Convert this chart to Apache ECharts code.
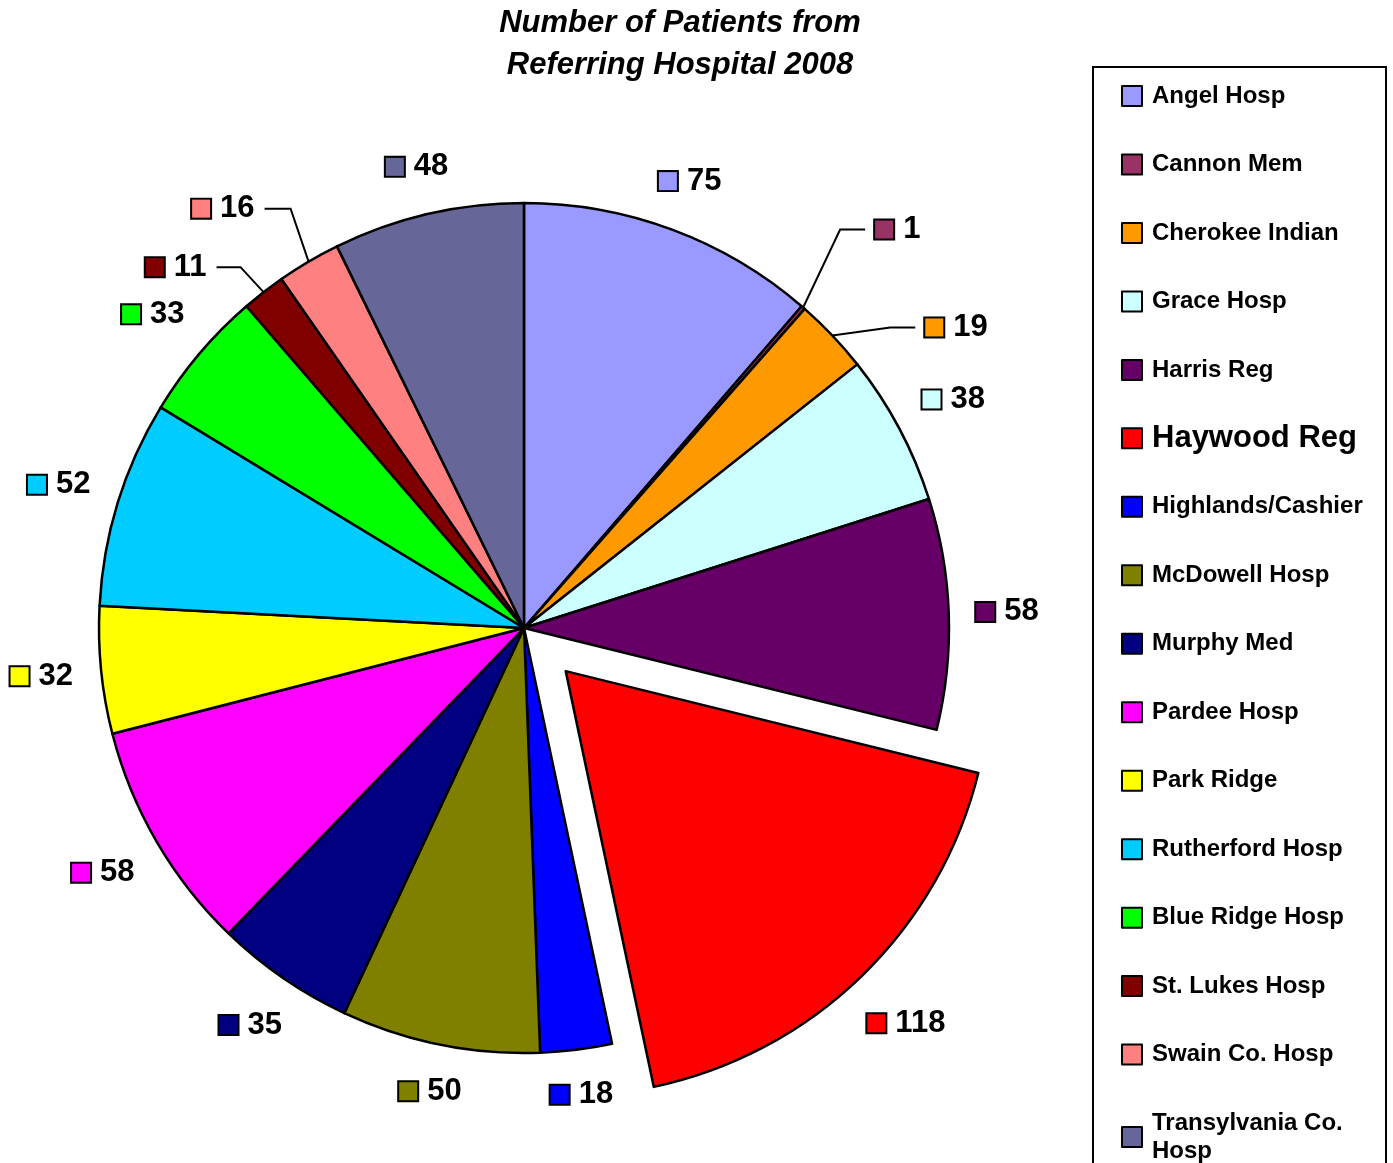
<!DOCTYPE html>
<html>
<head>
<meta charset="utf-8">
<script src="https://cdn.jsdelivr.net/npm/echarts@6/dist/echarts.min.js"></script>
<style>
html,body{margin:0;padding:0;background:#fff;}
#chart{width:1393px;height:1163px;}
</style>
</head>
<body>
<div id="chart"></div>
<script>
// ---- data ----
const categories = ['Angel Hosp','Cannon Mem','Cherokee Indian','Grace Hosp','Harris Reg','Haywood Reg','Highlands/Cashier','McDowell Hosp','Murphy Med','Pardee Hosp','Park Ridge','Rutherford Hosp','Blue Ridge Hosp','St. Lukes Hosp','Swain Co. Hosp','Transylvania Co. Hosp'];
const patients = [75, 1, 19, 38, 58, 118, 18, 50, 35, 58, 32, 52, 33, 11, 16, 48];
const sliceColors = ['#9999FF','#993366','#FF9900','#CCFFFF','#660066','#FF0000','#0000FF','#808000','#000080','#FF00FF','#FFFF00','#00CCFF','#00FF00','#800000','#FF8080','#666699'];
const explodedCategory = 'Haywood Reg';
const titleLines = ['Number of Patients from', 'Referring Hospital 2008'];

// ---- style / layout ----
const FONT = '"Liberation Sans", Arial, Helvetica, sans-serif';
const CX = 524, CY = 628, R = 425, EXPLODE = 60, GAP = 26;
// leader lines: bend offset from slice edge [dx, dy], horizontal length
const leaders = {
  'Cannon Mem': [37, -78, 25],
  'Cherokee Indian': [58, -8, 25],
  'St. Lukes Hosp': [-23, -25, 24],
  'Swain Co. Hosp': [-18, -53, 26]
};
const HIDDEN = 'rgba(0,0,0,0)';

const sum = (a, b) => a + b;
const total = patients.reduce(sum, 0);
const midAngles = [];
let acc = 0;
patients.forEach(v => { midAngles.push((acc + v / 2) / total * 2 * Math.PI); acc += v; });

const hIdx = categories.indexOf(explodedCategory);
const beforeSum = patients.slice(0, hIdx).reduce(sum, 0);
const afterSum = patients.slice(hIdx + 1).reduce(sum, 0);
const exCX = CX + Math.sin(midAngles[hIdx]) * EXPLODE;
const exCY = CY - Math.cos(midAngles[hIdx]) * EXPLODE;

const rich = {
  v: { fontFamily: FONT, fontSize: 31, fontWeight: 'bold', color: '#000', lineHeight: 30, padding: [0, 0, 0, 10] }
};
sliceColors.forEach((c, i) => {
  rich['s' + i] = { width: 18, height: 18, backgroundColor: c, borderColor: '#000', borderWidth: 2 };
});

function makeLabelLayout(cx, cy, toCatIndex) {
  return function (p) {
    const i = toCatIndex(p.dataIndex);
    const name = categories[i];
    const th = midAngles[i];
    const sx = Math.sin(th), sy = -Math.cos(th);
    const ex = cx + sx * R, ey = cy + sy * R;
    const w = p.labelRect.width, h = p.labelRect.height;
    const ld = leaders[name];
    if (ld) {
      const bx = ex + ld[0], by = ey + ld[1];
      const dir = ld[0] >= 0 ? 1 : -1;
      const tx = bx + dir * ld[2];
      return {
        x: tx + dir * 10, y: by,
        align: dir > 0 ? 'left' : 'right', verticalAlign: 'middle',
        labelLinePoints: [[ex, ey], [bx, by], [tx, by]]
      };
    }
    const d = R + GAP + (w / 2) * Math.abs(sx) + (h / 2) * Math.abs(sy);
    return { x: cx + sx * d, y: cy + sy * d, align: 'center', verticalAlign: 'middle' };
  };
}

const labelCommon = {
  show: true, position: 'outside',
  formatter: p => '{s' + categories.indexOf(p.name) + '|}{v|' + p.value + '}',
  rich: rich
};
const hiddenItem = (name, value) => ({
  name: name, value: value,
  itemStyle: { color: HIDDEN, borderWidth: 0 },
  label: { show: false }, labelLine: { show: false }
});

const chart = echarts.init(document.getElementById('chart'), null, { renderer: 'canvas' });

chart.setOption({
  backgroundColor: '#fff',
  animation: false,
  title: {
    text: titleLines.join('\n'),
    left: 680, top: 2, textAlign: 'center', padding: 0,
    textStyle: { fontFamily: FONT, fontSize: 31, fontWeight: 'bold', fontStyle: 'italic', lineHeight: 42, color: '#000' }
  },
  graphic: [{
    type: 'rect', z: -1,
    shape: { x: 1093, y: 67, width: 293, height: 1200 },
    style: { fill: '#fff', stroke: '#000', lineWidth: 2 }
  }],
  legend: {
    orient: 'vertical', left: 1121, top: 79, height: 1150, padding: 0,
    itemWidth: 20, itemHeight: 20, itemGap: 34.47,
    icon: 'rect', selectedMode: false,
    itemStyle: { borderColor: '#000', borderWidth: 2 },
    textStyle: { fontFamily: FONT, fontWeight: 'bold', fontSize: 24, lineHeight: 28, color: '#000', padding: [6, 0, 0, 5] },
    formatter: n => n === 'Transylvania Co. Hosp' ? 'Transylvania Co.\nHosp' : n,
    data: categories.map((n, i) => n === explodedCategory
      ? { name: n, itemStyle: { color: sliceColors[i] }, textStyle: { fontSize: 31, lineHeight: 28 } }
      : { name: n, itemStyle: { color: sliceColors[i] } })
  },
  series: [
    {
      // exploded slice, drawn with its own shifted centre
      type: 'pie', silent: true,
      center: [exCX, exCY], radius: R,
      startAngle: 90, clockwise: true,
      avoidLabelOverlap: false,
      emphasis: { disabled: true },
      itemStyle: { borderColor: '#000', borderWidth: 2.5 },
      label: labelCommon,
      labelLine: { show: false },
      labelLayout: makeLabelLayout(exCX, exCY, () => hIdx),
      data: [
        hiddenItem('', beforeSum),
        { name: explodedCategory, value: patients[hIdx], itemStyle: { color: sliceColors[hIdx] } },
        hiddenItem(' ', afterSum)
      ]
    },
    {
      type: 'pie', silent: true,
      center: [CX, CY], radius: R,
      startAngle: 90, clockwise: true,
      avoidLabelOverlap: false,
      emphasis: { disabled: true },
      itemStyle: { borderColor: '#000', borderWidth: 2.5 },
      label: labelCommon,
      labelLine: { show: false, lineStyle: { color: '#000', width: 2 } },
      labelLayout: makeLabelLayout(CX, CY, i => i),
      data: categories.map((n, i) => n === explodedCategory ? hiddenItem(n, patients[i]) : ({
        name: n,
        value: patients[i],
        itemStyle: { color: sliceColors[i] },
        labelLine: { show: !!leaders[n] }
      }))
    }
  ]
});
</script>
</body>
</html>
